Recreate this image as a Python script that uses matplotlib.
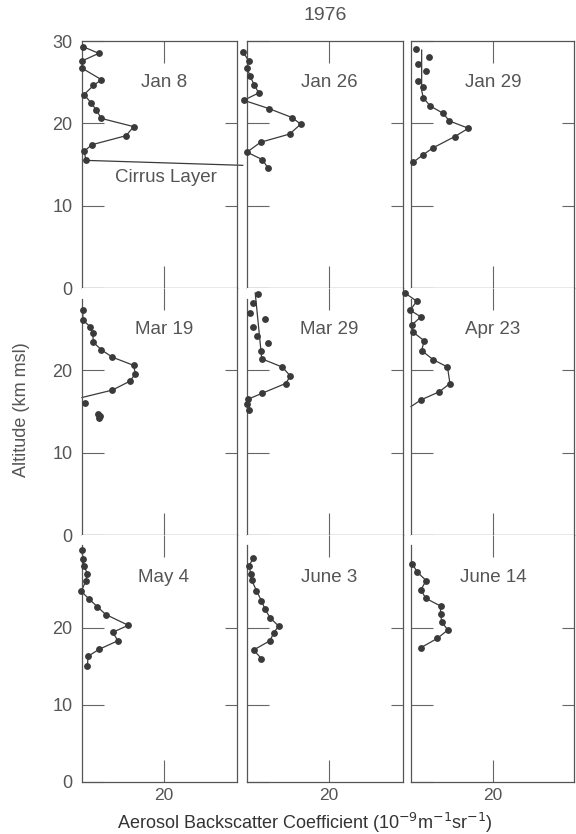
import matplotlib.pyplot as plt
from matplotlib.ticker import FixedLocator

plt.rcParams["font.family"] = ["Liberation Sans", "DejaVu Sans"]

INK = "#3a3a3a"
TXT = "#555555"

# ── Data: backscatter (1e-9 /m/sr) vs altitude (km msl) ──
jan8_x = [0.3, 4.1, 0.1, 0.0, 4.75, 2.8, 0.5, 2.2, 3.5, 4.7, 12.6, 10.75, 2.4, 0.5, 1.0]
jan8_alt = [29.3, 28.5, 27.6, 26.7, 25.3, 24.6, 23.5, 22.5, 21.6, 20.6, 19.6, 18.5, 17.4, 16.6, 15.5]
cirrus_x = [1.0, 39.2]
cirrus_alt = [15.5, 14.9]

jan26_x = [-1.0, 0.4, 0.0, 0.8, 1.8, 2.9, -0.8, 5.3, 11.0, 13.1, 10.4, 3.3, 0.0, 3.7, 5.1]
jan26_alt = [28.7, 27.6, 26.7, 25.7, 24.6, 23.7, 22.8, 21.8, 20.7, 19.9, 18.7, 17.7, 16.5, 15.6, 14.6]

jan29_x = [1.2, 4.5, 1.6, 3.7, 1.8, 3.0, 3.0, 4.7, 7.9, 9.3, 14.0, 10.7, 5.3, 3.0, 0.6]
jan29_alt = [29.0, 28.1, 27.2, 26.3, 25.2, 24.4, 23.1, 22.1, 21.2, 20.3, 19.4, 18.4, 17.0, 16.2, 15.3]
jan29_fit_x = [2.6, 2.6, 3.0, 4.7, 7.9, 9.3, 14.0, 10.7, 5.3, 3.0, 0.6]
jan29_fit_alt = [28.9, 24.0, 23.1, 22.1, 21.2, 20.3, 19.4, 18.4, 17.0, 16.2, 15.3]

mar19_x = [0.2, 0.2, 2.0, 2.6, 2.8, 4.7, 7.4, 12.6, 13.0, 11.75, 7.4, 0.75, 4.0, 4.3, 4.1]
mar19_alt = [27.3, 26.1, 25.3, 24.5, 23.4, 22.5, 21.6, 20.6, 19.6, 18.7, 17.6, 16.0, 14.7, 14.4, 14.2]
mar19_fit_x = [0.2, 0.2, 2.0, 2.6, 2.8, 4.7, 7.4, 12.6, 13.0, 11.75, 7.4, 0.0]
mar19_fit_alt = [27.3, 26.1, 25.3, 24.5, 23.4, 22.5, 21.6, 20.6, 19.6, 18.7, 17.6, 16.7]

mar29_x = [2.8, 1.4, 0.7, 4.3, 1.4, 2.4, 5.0, 3.4, 3.6, 8.6, 10.6, 9.4, 3.6, 0.3, 0.0, 0.5]
mar29_alt = [29.3, 28.2, 27.0, 26.2, 25.3, 24.2, 23.3, 22.3, 21.4, 20.4, 19.3, 18.4, 17.2, 16.5, 15.9, 15.2]
mar29_fit_x = [2.0, 3.6, 8.6, 10.6, 9.4, 3.6, 0.3, 0.0, 0.5]
mar29_fit_alt = [29.4, 21.4, 20.4, 19.3, 18.4, 17.2, 16.5, 15.9, 15.2]

apr23_x = [-1.5, 1.4, -0.2, 2.4, 0.2, 0.6, 3.2, 2.6, 5.4, 8.9, 9.5, 6.9, 2.4]
apr23_alt = [29.4, 28.4, 27.3, 26.5, 25.5, 24.6, 23.6, 22.4, 21.3, 20.4, 18.4, 17.4, 16.4]
apr23_fit_x = apr23_x + [0.0]
apr23_fit_alt = apr23_alt + [15.6]

may4_x = [0.0, 0.25, 0.5, 1.3, 0.9, -0.2, 1.75, 3.75, 5.8, 11.3, 7.5, 8.75, 4.2, 1.5, 1.3]
may4_alt = [30.0, 28.9, 28.0, 27.0, 26.0, 24.7, 23.7, 22.7, 21.7, 20.3, 19.4, 18.3, 17.2, 16.3, 15.0]

jun3_x = [1.5, 0.5, 0.9, 1.1, 2.3, 3.5, 4.4, 5.6, 7.7, 6.5, 5.6, 1.6, 3.5]
jun3_alt = [29.0, 28.0, 27.0, 26.2, 24.8, 23.5, 22.4, 21.3, 20.2, 19.3, 18.3, 17.1, 16.0]

jun14_x = [0.3, 1.5, 3.7, 2.4, 3.6, 7.2, 7.2, 7.5, 9.0, 6.4, 2.4]
jun14_alt = [28.3, 27.2, 26.1, 24.9, 23.8, 22.8, 21.8, 20.7, 19.7, 18.6, 17.4]

dates = ["Jan 8", "Jan 26", "Jan 29", "Mar 19", "Mar 29", "Apr 23",
         "May 4", "June 3", "June 14"]

# (points, fitted line) per panel, row by row
panels = [
    ((jan8_x, jan8_alt), (jan8_x, jan8_alt)),
    ((jan26_x, jan26_alt), (jan26_x, jan26_alt)),
    ((jan29_x, jan29_alt), (jan29_fit_x, jan29_fit_alt)),
    ((mar19_x, mar19_alt), (mar19_fit_x, mar19_fit_alt)),
    ((mar29_x, mar29_alt), (mar29_fit_x, mar29_fit_alt)),
    ((apr23_x, apr23_alt), (apr23_fit_x, apr23_fit_alt)),
    ((may4_x, may4_alt), (may4_x, may4_alt)),
    ((jun3_x, jun3_alt), (jun3_x, jun3_alt)),
    ((jun14_x, jun14_alt), (jun14_x, jun14_alt)),
]

# ── Layout (pixels of a 576x834 canvas) ──
W, H = 576, 834
col_left = [82, 247, 411]
col_width = [155, 156, 163]
row_top = [41, 288, 535]
row_h = 247
row_ylim = [30, 30, 32]
label_alt = [25, 25, 26.5]

fig = plt.figure(figsize=(W / 100, H / 100), dpi=100)

for i, ((px, py), (lx, ly)) in enumerate(panels):
    r, c = divmod(i, 3)
    rect = [col_left[c] / W, 1 - (row_top[r] + row_h) / H,
            col_width[c] / W, row_h / H]
    ax = fig.add_axes(rect)
    ax.set_xlim(0, col_width[c] / 4.1)
    ax.set_ylim(0, row_ylim[r])

    ax.plot(lx, ly, color=INK, lw=0.9, clip_on=False, zorder=2)
    ax.plot(px, py, "o", color=INK, ms=3.9, mec=INK, clip_on=False, zorder=3)
    ax.text(20, label_alt[r], dates[i], ha="center", va="center",
            fontsize=13.5, color=TXT)

    for s in ax.spines.values():
        s.set_color("#555555")
        s.set_linewidth(0.9)
    if r > 0:
        ax.spines["top"].set_visible(False)
        ax.spines["left"].set_bounds(0, row_ylim[r] - 1.3)

    # y ticks: long inward on the left, shorter on the right
    yt = [0, 10, 20, 30] if r == 0 else [0, 10, 20]
    ax.yaxis.set_major_locator(FixedLocator(yt))
    ax.yaxis.set_minor_locator(FixedLocator([10, 20]))
    ax.yaxis.remove_overlapping_locs = False
    ax.tick_params(axis="y", which="major", direction="in", length=16,
                   width=0.8, color="#666666", left=True, right=False,
                   labelleft=(c == 0), labelsize=13, labelcolor=TXT, pad=7)
    ax.tick_params(axis="y", which="minor", direction="in", length=9,
                   width=0.8, color="#666666", left=False, right=True)

    ax.set_xticks([20])
    ax.tick_params(axis="x", direction="in", length=16, width=0.8,
                   color="#666666", top=True, bottom=True,
                   labelbottom=(r == 2), labelsize=12.5, labelcolor=TXT, pad=4)

    if i == 0:
        ax.plot(cirrus_x, cirrus_alt, color=INK, lw=0.9, clip_on=False)
        ax.text(20.5, 13.4, "Cirrus Layer", ha="center", va="center",
                fontsize=13.5, color=TXT)

fig.text(325 / W, 1 - 15 / H, "1976", ha="center", va="center",
         fontsize=14, color=TXT)
fig.text(22 / W, 1 - 410 / H, "Altitude (km msl)", rotation=90,
         ha="center", va="center", fontsize=13, color=TXT)
fig.text(305 / W, 1 - 823 / H,
         "Aerosol Backscatter Coefficient (10$^{-9}$m$^{-1}$sr$^{-1}$)",
         ha="center", va="center", fontsize=13, color="#333333")

fig.savefig("out.png", dpi=100)
